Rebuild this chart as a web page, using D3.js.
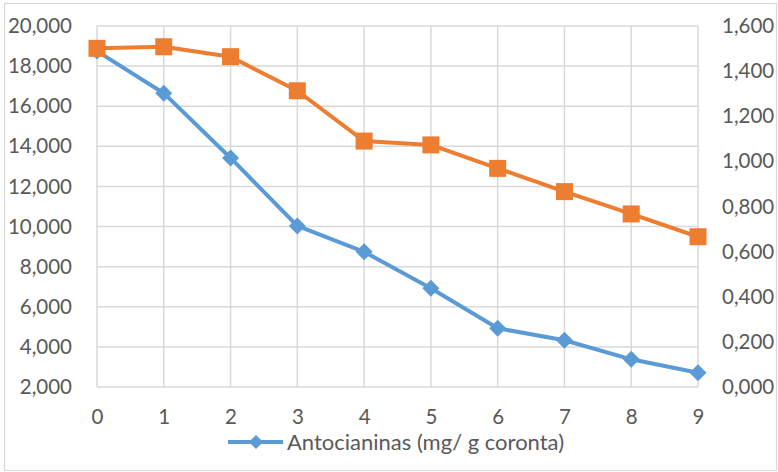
<!DOCTYPE html>
<html>
<head>
<meta charset="utf-8">
<script src="https://cdn.jsdelivr.net/npm/d3@7"></script>
<style>
  body { margin: 0; background: #fff; }
  text { font-family: Lato, "Open Sans", sans-serif; fill: #595959; }
</style>
</head>
<body>
<div id="chart"></div>
<script>
// data
var dias = [0, 1, 2, 3, 4, 5, 6, 7, 8, 9];
var antocianinas = [18750, 16650, 13420, 10030, 8740, 6920, 4930, 4330, 3380, 2710];
var serie2 = [1.501, 1.508, 1.464, 1.313, 1.090, 1.073, 0.969, 0.866, 0.767, 0.666];
var leftTicks = [2000, 4000, 6000, 8000, 10000, 12000, 14000, 16000, 18000, 20000];
var rightTicks = [0, 0.2, 0.4, 0.6, 0.8, 1.0, 1.2, 1.4, 1.6];
var legendLabel = "Antocianinas (mg/ g coronta)";

var color = {"blue": "#5b9bd5", "orange": "#ed7d31", "grid": "#d9d9d9"};

var width = 778, height = 472;
var plot = {left: 97, right: 698, top: 26, bottom: 387};

var svg = d3.select("#chart").append("svg")
  .attr("width", width)
  .attr("height", height);

// outer chart border
svg.append("rect")
  .attr("x", 4.5).attr("y", 3.5)
  .attr("width", width - 6).attr("height", height - 5)
  .attr("fill", "#fff")
  .attr("stroke", "#d9d9d9")
  .attr("stroke-width", 1.2);

var x = d3.scaleLinear().domain([0, 9]).range([plot.left, plot.right]);
var yLeft = d3.scaleLinear().domain([2000, 20000]).range([plot.bottom, plot.top]);
var yRight = d3.scaleLinear().domain([0, 1.6]).range([plot.bottom, plot.top]);

// gridlines
var grid = svg.append("g").attr("id", "grid");
grid.selectAll("line.h")
  .data(leftTicks)
  .enter().append("line")
  .attr("class", "h")
  .attr("x1", plot.left).attr("x2", plot.right)
  .attr("y1", function(d) { return yLeft(d); })
  .attr("y2", function(d) { return yLeft(d); })
  .style("stroke", color["grid"])
  .style("stroke-width", 1.5);
grid.selectAll("line.v")
  .data(dias)
  .enter().append("line")
  .attr("class", "v")
  .attr("y1", plot.top).attr("y2", plot.bottom)
  .attr("x1", function(d) { return x(d); })
  .attr("x2", function(d) { return x(d); })
  .style("stroke", color["grid"])
  .style("stroke-width", 1.5);

// axes (labels only)
var fmtLeft = d3.format(",");
var fmtRight = function(d) { return d3.format(".3f")(d).replace(".", ","); };

var axLeft = svg.append("g")
  .attr("transform", "translate(" + (plot.left - 25) + ",0)")
  .call(d3.axisLeft(yLeft).tickValues(leftTicks).tickFormat(fmtLeft).tickSize(0).tickPadding(0));
var axRight = svg.append("g")
  .attr("transform", "translate(" + (plot.right + 24) + ",0)")
  .call(d3.axisRight(yRight).tickValues(rightTicks).tickFormat(fmtRight).tickSize(0).tickPadding(0));
var axBottom = svg.append("g")
  .attr("transform", "translate(0," + (plot.bottom + 22) + ")")
  .call(d3.axisBottom(x).tickValues(dias).tickFormat(d3.format("d")).tickSize(0).tickPadding(0));

[axLeft, axRight, axBottom].forEach(function(ax) {
  ax.select(".domain").remove();
  ax.selectAll("text")
    .style("font-size", "20.5px")
    .style("font-family", "Lato, 'Open Sans', sans-serif")
    .attr("fill", "#595959");
});

// lines
var lineLeft = d3.line()
  .x(function(d, i) { return x(dias[i]); })
  .y(function(d) { return yLeft(d); });
var lineRight = d3.line()
  .x(function(d, i) { return x(dias[i]); })
  .y(function(d) { return yRight(d); });

svg.append("path")
  .datum(antocianinas)
  .attr("d", lineLeft)
  .attr("fill", "none")
  .style("stroke", color["blue"])
  .style("stroke-width", 4)
  .style("stroke-linejoin", "round");

svg.append("g").selectAll("path")
  .data(antocianinas)
  .enter().append("path")
  .attr("transform", function(d, i) { return "translate(" + x(dias[i]) + "," + yLeft(d) + ") rotate(45)"; })
  .attr("d", "M-6,-6H6V6H-6Z")
  .attr("fill", color["blue"]);

svg.append("path")
  .datum(serie2)
  .attr("d", lineRight)
  .attr("fill", "none")
  .style("stroke", color["orange"])
  .style("stroke-width", 4)
  .style("stroke-linejoin", "round");

svg.append("g").selectAll("rect")
  .data(serie2)
  .enter().append("rect")
  .attr("x", function(d, i) { return x(dias[i]) - 8.5; })
  .attr("y", function(d) { return yRight(d) - 8.5; })
  .attr("width", 17).attr("height", 17)
  .attr("fill", color["orange"]);

// legend
var legend = svg.append("g").attr("transform", "translate(228,442)");
legend.append("line")
  .attr("x1", 0).attr("x2", 55)
  .style("stroke", color["blue"])
  .style("stroke-width", 4);
legend.append("path")
  .attr("transform", "translate(28,0) rotate(45)")
  .attr("d", "M-5,-5H5V5H-5Z")
  .attr("fill", color["blue"]);
legend.append("text")
  .attr("x", 59).attr("y", 7.5)
  .style("font-size", "22px")
  .text(legendLabel);
</script>
</body>
</html>
